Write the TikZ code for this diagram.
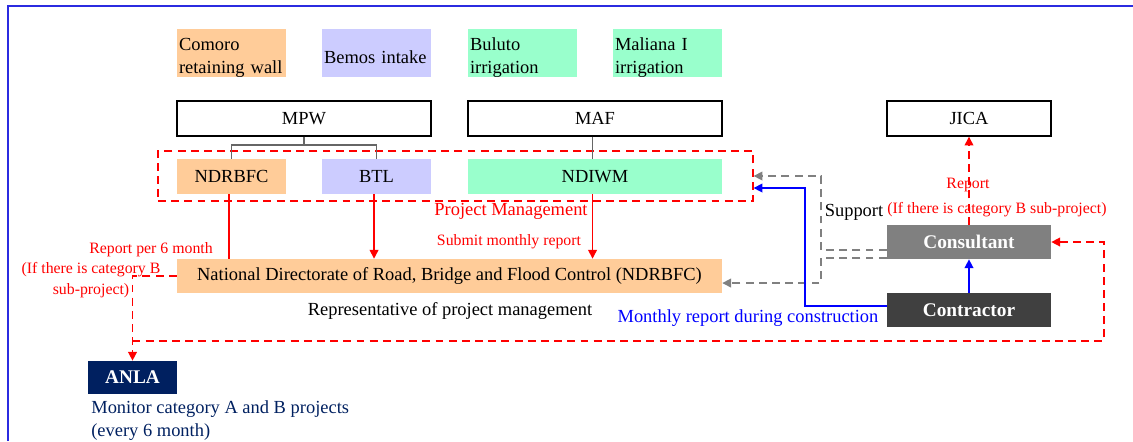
\documentclass[tikz,border=0pt]{standalone}
\usepackage{fontspec}
\setmainfont{Liberation Serif}
\usetikzlibrary{arrows.meta}

\definecolor{orgfill}{HTML}{FFCC99}
\definecolor{lavfill}{HTML}{CCCCFF}
\definecolor{grnfill}{HTML}{99FFCC}
\definecolor{anlanavy}{HTML}{002060}
\definecolor{consgrey}{HTML}{808080}
\definecolor{contgrey}{HTML}{404040}
\definecolor{framblue}{HTML}{2B2BE0}

\begin{document}
\begin{tikzpicture}
  [x=0.02cm, y=-0.02cm,
   txt/.style={font=\fontsize{10.5}{13}\selectfont},
   small/.style={font=\fontsize{9}{12}\selectfont},
   proj/.style={txt, inner xsep=0.04cm, inner ysep=0pt, text width=2.1cm, align=left, minimum height=0.96cm,
     execute at begin node=\rule{0pt}{12.3pt}},
   unit/.style={txt, minimum width=2.18cm, minimum height=0.7cm, inner sep=0pt},
   ministry/.style={txt, draw=black, thick, minimum width=5.08cm, minimum height=0.7cm, inner sep=0pt},
   actor/.style={font=\fontsize{11}{13}\selectfont\bfseries, text=white, minimum width=3.28cm, minimum height=0.68cm, inner sep=0pt},
   redlbl/.style={small, text=red},
   tree/.style={draw=black!60, thick},
   redline/.style={draw=red, thick},
   redarrow/.style={redline, -{Triangle[length=5pt,width=5pt]}},
   reddash/.style={draw=red, thick, dash pattern=on 4.5pt off 3pt, -{Triangle[length=5pt,width=5pt]}},
   greydash/.style={draw=consgrey, thick, dash pattern=on 4.5pt off 3pt, -{Triangle[length=5pt,width=5pt]}},
   bluearrow/.style={draw=blue, thick, -{Triangle[length=5pt,width=5pt]}}]

  \useasboundingbox (0,0) rectangle (1133,441);
  \draw[framblue, thick] (8,441) -- (8,6) -- (1133,6);

  % sub-projects
  \node[proj, fill=orgfill] (comoro) at (231.5,53) {Comoro\\retaining wall};
  \node[proj, fill=lavfill] (bemos) at (376.5,53) {Bemos intake};
  \node[proj, fill=grnfill] (buluto) at (522.5,53) {Buluto\\irrigation};
  \node[proj, fill=grnfill] (maliana) at (667.5,53) {Maliana I\\irrigation};

  % ministries
  \node[ministry] (mpw) at (304,118.5) {MPW};
  \node[ministry] (maf) at (595,118.5) {MAF};
  \node[ministry, minimum width=3.28cm] (jica) at (969,118.5) {JICA};

  % project management units
  \node[draw=red, thick, dash pattern=on 4.5pt off 3pt, minimum width=11.9cm, minimum height=1cm] (pm) at (455.5,176) {};
  \node[unit, fill=orgfill] (ndrbfc) at (231.5,176.5) {NDRBFC};
  \node[unit, fill=lavfill] (btl) at (376.5,176.5) {BTL};
  \node[unit, fill=grnfill, minimum width=5.08cm] (ndiwm) at (595,176.5) {NDIWM};

  \node[txt, fill=orgfill, minimum width=10.9cm, minimum height=0.68cm, inner sep=0pt] (ndrbfcbig) at (449.5,276)
    {National Directorate of Road, Bridge and Flood Control (NDRBFC)};
  \node[actor, fill=consgrey] (consultant) at (969,242) {Consultant};
  \node[actor, fill=contgrey] (contractor) at (969,310) {Contractor};
  \node[actor, fill=anlanavy, minimum width=1.78cm, minimum height=0.66cm] (anla) at (132.5,377.5) {ANLA};

  % reports to NDRBFC
  \draw[redline] ([xshift=-1.4pt]ndrbfc.south) -- ([xshift=-1.4pt]ndrbfc.south |- ndrbfcbig.north);
  \foreach \unitname in {btl, ndiwm}
    \draw[redarrow] ([xshift=-1.4pt]\unitname.south) -- ([xshift=-1.4pt]\unitname.south |- ndrbfcbig.north);

  % organisation tree
  \coordinate (mpwfork) at (304,145);
  \draw[tree] (mpw) -- (mpwfork);
  \foreach \unitname in {ndrbfc, btl}
    \draw[tree] (mpwfork) -| (\unitname.north);
  \draw[tree] ([xshift=-1.4pt]maf.south) -- ([xshift=-1.4pt]ndiwm.north);

  % reports to ANLA, JICA
  \draw[reddash] (ndrbfcbig.west) -| (anla.north);
  \coordinate (anlafork) at (anla.north |- 0,341);
  \coordinate (rcorner) at (1104,341);
  \draw[reddash] (anlafork) -- (rcorner) |- (consultant.east);
  \draw[reddash] (consultant) -- (jica);

  % consultant support
  \coordinate (g1) at (821,250);
  \coordinate (g2) at (821,258);
  \draw[greydash] (consultant.west |- g1) -- (g1) |- (pm.east);
  \draw[greydash] (consultant.west |- g2) -- (g2) |- ([yshift=-4pt]ndrbfcbig.east);

  % contractor reports
  \coordinate (b1) at (805,306);
  \coordinate (b2) at (805,188);
  \draw[bluearrow] (contractor.west |- b1) -- (b1) -- (b2) -- (pm.east |- b2);
  \draw[bluearrow] (contractor) -- (consultant);

  % labels
  \node[txt, text=red] (lblpm) at (511,211) {Project Management};
  \node[redlbl] (lblsubmit) at (509,242) {Submit monthly report};
  \node[redlbl] (lbl6m) at (151,250) {Report per 6 month};
  \node[redlbl, align=center] (lblcatb) at (91,280.5) {(If there is category B\\sub-project)};
  \node[txt] (lblrep) at (450,311) {Representative of project management};
  \node[txt] (lblsup) at (854,212) {Support};
  \node[redlbl] (lbljrep) at (968,185) {Report};
  \node[redlbl] (lbljcat) at (997,210) {(If there is category B sub-project)};
  \node[txt, text=blue] (lblmon) at (748,318) {Monthly report during construction};
  \node[txt, text=anlanavy, align=left, anchor=north west, inner sep=0pt] (lblanla) at (91,400)
    {Monitor category A and B projects\\(every 6 month)};
\end{tikzpicture}
\end{document}
